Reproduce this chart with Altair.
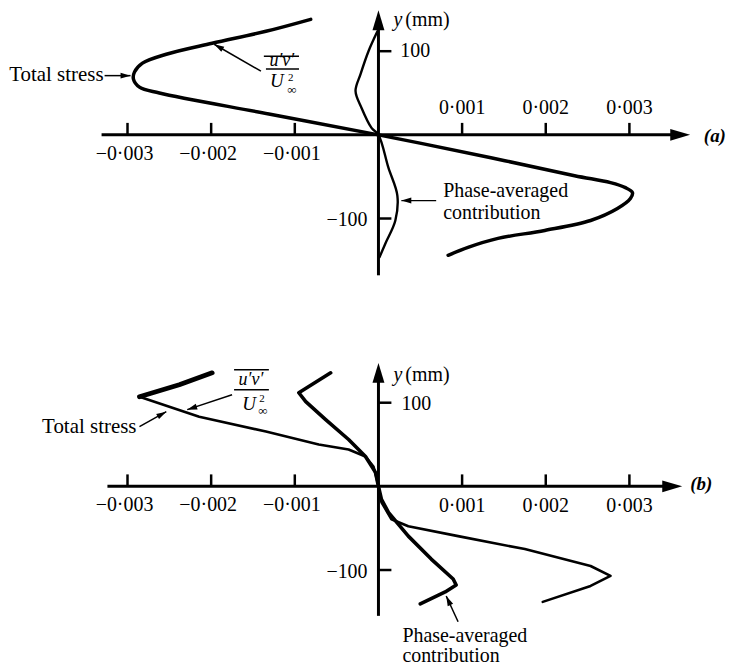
import altair as alt
import pandas as pd

FONT = "Liberation Serif"

# ---------------- data ----------------
# panel (a): total stress u'v'/U^2 and phase-averaged contribution (x: stress, y: mm)
A_TOTAL_X = [-0.00081, -0.001345, -0.001988, -0.002536, -0.002821, -0.002917, -0.002929,
             -0.002857, -0.002619, -0.00131, 0.0, 0.001345, 0.002345, 0.002774, 0.002952,
             0.003036, 0.003012, 0.002857, 0.002536, 0.001988, 0.001429, 0.001071, 0.000833]
A_TOTAL_Y = [138.1, 123.8, 109.5, 96.4, 85.7, 75.0, 66.7, 57.1, 50.0, 25.0, 0.0, -27.4,
             -48.8, -57.1, -63.1, -69.0, -76.2, -88.1, -102.4, -114.3, -123.8, -134.5, -144.0]
A_PHASE_X = [-0.000012, -0.000119, -0.000214, -0.000274, -0.000202, -0.000083, 0.0,
             0.000119, 0.000226, 0.000202, 0.000083, 0.000012]
A_PHASE_Y = [123.8, 100.0, 72.6, 52.4, 32.1, 8.3, 0.0, -39.3, -72.6, -102.4, -129.8, -146.4]

# panel (b)
B_TOTAL_X = [-0.001988, -0.002381, -0.002857, -0.002143, -0.001345, -0.000714, -0.000357,
             -0.000155, -0.00006, -0.000024, 0.0, 0.000036, 0.000155, 0.000357, 0.000952,
             0.00175, 0.002536, 0.002774, 0.002536, 0.001964]
B_TOTAL_Y = [135.7, 121.4, 107.1, 83.3, 65.5, 50.0, 44.0, 35.7, 23.8, 10.7, 0.0, -19.0,
             -39.3, -47.6, -59.5, -75.0, -95.2, -107.1, -119.0, -138.1]
B_PHASE_X = [-0.000571, -0.000952, -0.000869, -0.000631, -0.000357, -0.000155, -0.000036,
             0.0, 0.000036, 0.000119, 0.000357, 0.000631, 0.000893, 0.000929, 0.000798, 0.0005]
B_PHASE_Y = [135.7, 111.9, 101.2, 79.8, 56.0, 35.7, 16.7, 0.0, -15.5, -31.0, -59.5, -86.9,
             -110.7, -117.9, -126.2, -140.5]

X_TICKS = [-0.003, -0.002, -0.001, 0.001, 0.002, 0.003]
X_TICK_LABELS = ["\u22120\u00b7003", "\u22120\u00b7002", "\u22120\u00b7001",
                 "0\u00b7001", "0\u00b7002", "0\u00b7003"]
Y_TICKS = [100, -100]
Y_TICK_LABELS = ["100", "\u2212100"]

# ---------------- layout ----------------
W = 718
PX_PER_X = 84000.0      # pixels per unit of stress
PX_PER_Y = 0.84         # pixels per mm
XD = [-0.0044286, 0.0041190]

ARROW = "M0,0L-0.6,2L0.6,2Z"


def xsc():
    return alt.Scale(domain=XD, nice=False, zero=False)


def build_panel(h, ydom, curves, rules, heads, texts):
    ysc = alt.Scale(domain=ydom, nice=False, zero=False)
    layers = []
    for (xs, ys, width, interp) in curves:
        df = pd.DataFrame({"v": xs, "y": ys, "i": list(range(len(xs)))})
        layers.append(
            alt.Chart(df).mark_line(color="black", strokeWidth=width, interpolate=interp,
                                    strokeCap="round", strokeJoin="round")
            .encode(x=alt.X("v:Q", scale=xsc(), axis=None),
                    y=alt.Y("y:Q", scale=ysc, axis=None),
                    order=alt.Order("i:Q"))
        )
    rdf = pd.DataFrame(rules, columns=["v1", "y1", "v2", "y2", "w"])
    layers.append(
        alt.Chart(rdf).mark_rule(color="black", strokeCap="butt")
        .encode(x=alt.X("v1:Q", scale=xsc(), axis=None), x2="v2:Q",
                y=alt.Y("y1:Q", scale=ysc, axis=None), y2="y2:Q",
                strokeWidth=alt.StrokeWidth("w:Q", scale=None))
    )
    hdf = pd.DataFrame(heads, columns=["v", "y", "ang", "sz"])
    layers.append(
        alt.Chart(hdf).mark_point(shape=ARROW, filled=True, color="black", opacity=1,
                                  strokeWidth=0)
        .encode(x=alt.X("v:Q", scale=xsc(), axis=None),
                y=alt.Y("y:Q", scale=ysc, axis=None),
                angle=alt.Angle("ang:Q", scale=None),
                size=alt.Size("sz:Q", scale=None))
    )
    tdf = pd.DataFrame(texts, columns=["v", "y", "t", "align", "style", "weight", "fs"])
    for (al, st, wt, fs), g in tdf.groupby(["align", "style", "weight", "fs"]):
        layers.append(
            alt.Chart(g).mark_text(align=al, baseline="middle", font=FONT, fontSize=fs,
                                   fontStyle=st, fontWeight=wt, color="black")
            .encode(x=alt.X("v:Q", scale=xsc(), axis=None),
                    y=alt.Y("y:Q", scale=ysc, axis=None),
                    text="t:N")
        )
    return alt.layer(*layers).properties(width=W, height=h)


def axis_parts(x_left, x_tip, y_bot, y_tip, lab_y_neg, lab_y_pos):
    rules = [
        (x_left, 0, x_tip - 12 / PX_PER_X, 0, 3),
        (0, y_bot, 0, y_tip - 12 / PX_PER_Y, 3),
    ]
    for t in X_TICKS:
        rules.append((t, 0, t, 14.3, 2.5))
    for t in Y_TICKS:
        rules.append((0, t, 13 / PX_PER_X, t, 2.5))
    heads = [(x_tip, 0, 90, 400), (0, y_tip, 0, 400)]
    texts = []
    for t, lab in zip(X_TICKS, X_TICK_LABELS):
        if t < 0:
            texts.append((t - 3 / PX_PER_X, lab_y_neg, lab, "center", "normal", "normal", 20))
        else:
            texts.append((t, lab_y_pos, lab, "center", "normal", "normal", 20))
    return rules, heads, texts


# ---------------- panel (a) ----------------
ra, ha, ta = axis_parts(-0.00331, 0.003726, -167.9, 149.0, -22.6, 32.1)
ra += [
    (-0.003274, 70.8, -0.002964, 70.8, 1.5),      # Total stress arrow
    (-0.001405, 76.2, -0.001964, 108.3, 1.5),     # u'v' arrow
    (0.00069, -78.6, 0.000274, -78.6, 1.2),       # phase-averaged arrow
    (-0.00137, 94.0, -0.00095, 94.0, 1.5),        # overline
    (-0.001345, 78.6, -0.00095, 78.6, 1.5),       # fraction bar
]
ha += [
    (-0.002964, 70.8, 90, 100),
    (-0.001964, 108.3, 300, 100),
    (0.000274, -78.6, 270, 100),
]
ta += [
    (-0.003286, 71.0, "Total stress", "right", "normal", "normal", 21),
    (0.000774, -66.7, "Phase-averaged", "left", "normal", "normal", 20),
    (0.000774, -92.9, "contribution", "left", "normal", "normal", 20),
    (0.000179, 137.5, "y", "left", "italic", "normal", 20),
    (0.000321, 137.5, "(mm)", "left", "normal", "normal", 20),
    (0.000262, 100.0, Y_TICK_LABELS[0], "left", "normal", "normal", 20),
    (-0.000131, -102.0, Y_TICK_LABELS[1], "right", "normal", "normal", 20),
    (0.00389, -1.0, "(a)", "left", "italic", "bold", 19),
    (-0.001155, 88.0, "u\u2032v\u2032", "center", "italic", "normal", 18),
    (-0.001214, 64.3, "U", "center", "italic", "normal", 19),
    (-0.001048, 67.9, "2", "center", "normal", "normal", 11),
    (-0.001036, 53.6, "\u221e", "center", "normal", "normal", 13),
]
panel_a = build_panel(
    282, [-185.7, 150.0],
    [(A_TOTAL_X, A_TOTAL_Y, 3.5, "catmull-rom"),
     (A_PHASE_X, A_PHASE_Y, 2.4, "catmull-rom")],
    ra, ha, ta)

# ---------------- panel (b) ----------------
rb, hb, tb = axis_parts(-0.00324, 0.003631, -154.8, 147.6, -22.0, -23.8)
rb += [
    (-0.002857, 71.4, -0.002536, 89.3, 1.5),
    (-0.00175, 109.5, -0.002286, 91.7, 1.5),
    (0.000952, -161.9, 0.00081, -131.0, 1.5),
    (-0.001726, 139.3, -0.00131, 139.3, 1.5),
    (-0.001726, 115.5, -0.00131, 115.5, 1.5),
]
hb += [
    (-0.002536, 89.3, 61, 100),
    (-0.002286, 91.7, 252, 100),
    (0.00081, -131.0, 335, 100),
]
tb += [
    (-0.002893, 71.4, "Total stress", "right", "normal", "normal", 21),
    (0.000286, -178.6, "Phase-averaged", "left", "normal", "normal", 20),
    (0.000286, -202.5, "contribution", "left", "normal", "normal", 20),
    (0.000179, 133.3, "y", "left", "italic", "normal", 20),
    (0.000321, 133.3, "(mm)", "left", "normal", "normal", 20),
    (0.000274, 98.0, Y_TICK_LABELS[0], "left", "normal", "normal", 20),
    (-0.000131, -102.0, Y_TICK_LABELS[1], "right", "normal", "normal", 20),
    (0.003726, 2.4, "(b)", "left", "italic", "bold", 19),
    (-0.001524, 127.4, "u\u2032v\u2032", "center", "italic", "normal", 18),
    (-0.001548, 98.8, "U", "center", "italic", "normal", 19),
    (-0.001393, 104.8, "2", "center", "normal", "normal", 11),
    (-0.001381, 90.0, "\u221e", "center", "normal", "normal", 13),
]
panel_b = build_panel(
    378, [-215.5, 234.5],
    [(B_TOTAL_X[:3], B_TOTAL_Y[:3], 4.8, "linear"),
     (B_TOTAL_X[2:], B_TOTAL_Y[2:], 2.6, "linear"),
     (B_PHASE_X, B_PHASE_Y, 3.6, "linear")],
    rb, hb, tb)

chart = (
    alt.vconcat(panel_a, panel_b, spacing=0)
    .properties(padding=0)
    .configure_view(stroke=None)
)

chart.save("out.html", embed_options={"renderer": "svg", "actions": False})
